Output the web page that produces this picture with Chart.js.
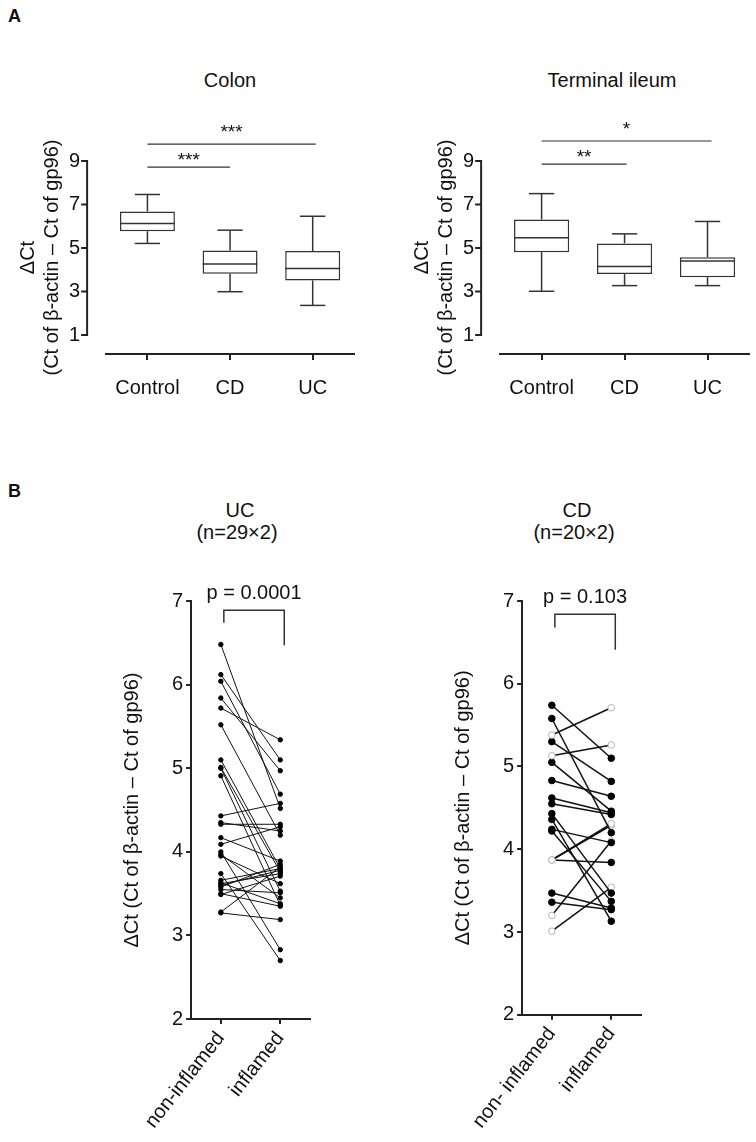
<!DOCTYPE html>
<html>
<head>
<meta charset="utf-8">
<script src="https://cdn.jsdelivr.net/npm/chart.js@4.4.1/dist/chart.umd.min.js"></script>
<style>
  html, body { margin: 0; padding: 0; background: #fff; }
  body { width: 756px; height: 1142px; position: relative; overflow: hidden;
         font-family: "Liberation Sans", Arial, sans-serif; color: #111; }
  .panel { position: absolute; }
  .lbl { position: absolute; font-size: 20px; line-height: 24px; white-space: nowrap;
         transform: translate(-50%, -50%); text-align: center; }
  .tag { position: absolute; font-weight: bold; font-size: 18px; line-height: 18px; }
</style>
</head>
<body>
<div class="tag" style="left:8px;top:7px">A</div>
<div class="tag" style="left:8px;top:482px">B</div>

<div class="lbl" style="left:230px;top:80px">Colon</div>
<div class="lbl" style="left:612px;top:80px">Terminal ileum</div>
<div class="lbl" style="left:240px;top:510px">UC</div>
<div class="lbl" style="left:237px;top:532px">(n=29×2)</div>
<div class="lbl" style="left:577px;top:510px">CD</div>
<div class="lbl" style="left:574px;top:532px">(n=20×2)</div>

<div class="panel" style="left:0;top:0;width:378px;height:420px"><canvas id="colonChart"></canvas></div>
<div class="panel" style="left:394px;top:0;width:362px;height:420px"><canvas id="ileumChart"></canvas></div>
<div class="panel" style="left:0;top:480px;width:378px;height:662px"><canvas id="ucChart"></canvas></div>
<div class="panel" style="left:331px;top:480px;width:378px;height:662px"><canvas id="cdChart"></canvas></div>

<script>
/* ── data ── */
const groupLabels = ['Control', 'CD', 'UC'];
const boxTicks = [1, 3, 5, 7, 9];

// Colon: whisker min, Q1, median, Q3, whisker max
const colonMin = [5.21, 2.99, 2.36];
const colonQ1  = [5.77, 3.82, 3.51];
const colonMed = [6.13, 4.26, 4.06];
const colonQ3  = [6.68, 4.89, 4.86];
const colonMax = [7.46, 5.82, 6.46];

// Terminal ileum
const ileumMin = [3.01, 3.27, 3.27];
const ileumQ1  = [4.81, 3.80, 3.66];
const ileumMed = [5.47, 4.15, 4.40];
const ileumQ3  = [6.31, 5.21, 4.58];
const ileumMax = [7.50, 5.65, 6.22];

// paired samples, UC
const ucLabels = ['non-inflamed', 'inflamed'];
const ucNonInflamed = [6.48, 6.12, 6.04, 5.84, 5.72, 5.52, 5.10, 5.01, 5.00, 4.91,
                       4.43, 4.35, 4.33, 4.17, 4.09, 4.00, 3.97, 3.95, 3.74, 3.66,
                       3.63, 3.60, 3.58, 3.55, 3.50, 3.49, 3.28, 3.27, 3.62];
const ucInflamed    = [4.52, 5.10, 4.69, 4.97, 5.34, 4.20, 3.80, 3.76, 3.53, 3.36,
                       4.58, 4.25, 4.33, 3.89, 4.30, 2.83, 3.45, 3.62, 2.70, 3.80,
                       3.38, 3.78, 3.85, 3.51, 3.35, 3.71, 3.82, 3.19, 3.74];

// paired samples, CD (hollow = open marker in the figure)
const cdLabels = ['non- inflamed', 'inflamed'];
const cdNonInflamed = [5.74, 5.58, 5.38, 5.30, 5.13, 5.05, 4.83, 4.62, 4.55, 4.43,
                       4.36, 4.24, 4.22, 3.87, 3.87, 3.87, 3.47, 3.36, 3.20, 3.01];
const cdInflamed    = [5.10, 4.20, 5.71, 4.82, 5.26, 4.46, 4.64, 4.44, 4.42, 3.47,
                       3.13, 4.08, 3.37, 4.31, 4.29, 3.84, 3.29, 3.27, 4.10, 3.54];
const cdNonHollow   = [0, 0, 1, 0, 1, 0, 0, 0, 0, 0, 0, 0, 0, 1, 1, 1, 0, 0, 1, 1];
const cdInfHollow   = [0, 0, 1, 0, 1, 0, 0, 0, 0, 0, 0, 0, 0, 1, 1, 0, 0, 0, 1, 1];

const yTitleA = ['ΔCt', '(Ct of β-actin – Ct of gp96)'];
const yTitleB = 'ΔCt (Ct of β-actin – Ct of gp96)';

/* ── defaults ── */
const FONT = "'Liberation Sans', Arial, sans-serif";
Chart.defaults.font.family = FONT;
Chart.defaults.color = '#111';
const INK = '#222';

/* ── plugins ── */
// y axis drawn detached from the x axis (Prism style)
const offsetAxis = {
  id: 'offsetAxis',
  afterDraw(chart, args, o) {
    if (!o.gap) return;
    const { ctx, chartArea } = chart;
    const y = chart.scales.y;
    const x = chartArea.left - o.gap;
    const vals = y.ticks.map(t => t.value);
    ctx.save();
    ctx.strokeStyle = INK;
    ctx.lineWidth = 2;
    ctx.lineCap = 'square';
    ctx.beginPath();
    ctx.moveTo(x, y.getPixelForValue(vals[0]));
    ctx.lineTo(x, y.getPixelForValue(vals[vals.length - 1]));
    ctx.stroke();
    ctx.lineCap = 'butt';
    vals.forEach(v => {
      const py = y.getPixelForValue(v);
      ctx.beginPath();
      ctx.moveTo(x - o.tick, py);
      ctx.lineTo(x, py);
      ctx.stroke();
    });
    ctx.restore();
  },
};

const whiskers = {
  id: 'whiskers',
  afterDatasetsDraw(chart, args, o) {
    if (!o.min) return;
    const { ctx } = chart;
    const y = chart.scales.y;
    const meta = chart.getDatasetMeta(0);
    ctx.save();
    ctx.strokeStyle = '#333';
    ctx.lineWidth = 1.5;
    meta.data.forEach((bar, i) => {
      const half = bar.width / 2;
      const cap = bar.width * 0.23;
      const seg = (x0, y0, x1, y1) => { ctx.beginPath(); ctx.moveTo(x0, y0); ctx.lineTo(x1, y1); ctx.stroke(); };
      const pMin = y.getPixelForValue(o.min[i]);
      const pQ1 = y.getPixelForValue(o.q1[i]);
      const pMed = y.getPixelForValue(o.med[i]);
      const pQ3 = y.getPixelForValue(o.q3[i]);
      const pMax = y.getPixelForValue(o.max[i]);
      seg(bar.x, pQ3, bar.x, pMax);
      seg(bar.x - cap, pMax, bar.x + cap, pMax);
      seg(bar.x, pQ1, bar.x, pMin);
      seg(bar.x - cap, pMin, bar.x + cap, pMin);
      seg(bar.x - half, pMed, bar.x + half, pMed);
    });
    ctx.restore();
  },
};

const sigBars = {
  id: 'sigBars',
  afterDraw(chart, args, o) {
    if (!o.bars) return;
    const { ctx } = chart;
    const x = chart.scales.x, y = chart.scales.y;
    ctx.save();
    ctx.strokeStyle = '#333';
    ctx.lineWidth = 1.2;
    ctx.fillStyle = '#111';
    ctx.font = '19px ' + FONT;
    ctx.textAlign = 'center';
    ctx.textBaseline = 'alphabetic';
    o.bars.forEach(b => {
      const xa = x.getPixelForValue(b.from);
      const xb = x.getPixelForValue(b.to) + (b.extend || 0);
      const py = y.getPixelForValue(b.level);
      ctx.beginPath();
      ctx.moveTo(xa, py);
      ctx.lineTo(xb, py);
      ctx.stroke();
      ctx.fillText(b.text, (xa + xb) / 2, py - b.lift);
    });
    ctx.restore();
  },
};

const bracket = {
  id: 'bracket',
  afterDraw(chart, args, o) {
    if (!o.text) return;
    const { ctx } = chart;
    const x = chart.scales.x, y = chart.scales.y;
    const x0 = x.getPixelForValue(0) + 3;
    const x1 = x.getPixelForValue(1) + 4;
    const yt = y.getPixelForValue(o.top);
    ctx.save();
    ctx.strokeStyle = '#333';
    ctx.lineWidth = 1.5;
    ctx.beginPath();
    ctx.moveTo(x0, y.getPixelForValue(o.leftEnd));
    ctx.lineTo(x0, yt);
    ctx.lineTo(x1, yt);
    ctx.lineTo(x1, y.getPixelForValue(o.rightEnd));
    ctx.stroke();
    ctx.fillStyle = '#111';
    ctx.font = '20px ' + FONT;
    ctx.textAlign = 'center';
    ctx.textBaseline = 'alphabetic';
    ctx.fillText(o.text, (x0 + x1) / 2, yt - 11);
    ctx.restore();
  },
};

/* ── box plots (panel A) ── */
function boxChart(id, stats, sigs, padRight) {
  const ctx = document.getElementById(id);
  return new Chart(ctx, {
    type: 'bar',
    data: {
      labels: groupLabels,
      datasets: [{
        data: stats.q1.map((v, i) => [v, stats.q3[i]]),
        backgroundColor: '#fff',
        borderColor: '#333',
        borderWidth: 1.5,
        borderSkipped: false,
        categoryPercentage: 1,
        barPercentage: 0.665,
      }],
    },
    options: {
      responsive: true,
      maintainAspectRatio: false,
      animation: false,
      layout: { padding: { left: 16, top: 161, right: padRight, bottom: 4 } },
      plugins: {
        legend: { display: false },
        tooltip: { enabled: false },
        whiskers: stats,
        sigBars: { bars: sigs },
        offsetAxis: { gap: 19, tick: 6 },
      },
      scales: {
        x: {
          offset: true,
          grid: { display: true, drawOnChartArea: false, drawTicks: true, tickLength: 6, offset: false, color: INK, lineWidth: 2 },
          border: { display: true, color: INK, width: 2 },
          ticks: { color: '#111', font: { size: 20 }, padding: 16 },
        },
        y: {
          min: 0.126,
          max: 9,
          afterBuildTicks: s => { s.ticks = boxTicks.map(v => ({ value: v })); },
          grid: { display: false, drawTicks: false },
          border: { display: false },
          ticks: { color: '#111', font: { size: 20 }, padding: 26 },
          title: {
            display: true,
            text: yTitleA,
            color: '#111',
            font: { size: 20, lineHeight: 1.2 },
            // ticks padding is counted twice in the axis width, pull it back here
            padding: { top: 0, bottom: -21 },
          },
        },
      },
    },
    plugins: [offsetAxis, whiskers, sigBars],
  });
}

/* ── paired plots (panel B) ── */
function pairChart(id, labels, non, inf, nonHollow, infHollow, look, p) {
  const ctx = document.getElementById(id);
  const datasets = non.map((v, i) => {
    const hollow = [nonHollow ? nonHollow[i] : 0, infHollow ? infHollow[i] : 0];
    return {
      data: [v, inf[i]],
      borderColor: '#111',
      borderWidth: look.line,
      pointRadius: look.radius,
      pointBorderWidth: 1,
      pointBackgroundColor: hollow.map(h => (h ? '#fff' : '#000')),
      pointBorderColor: hollow.map(h => (h ? '#b4b4b4' : '#000')),
    };
  });
  return new Chart(ctx, {
    type: 'line',
    data: { labels, datasets },
    options: {
      responsive: true,
      maintainAspectRatio: false,
      animation: false,
      layout: { padding: { left: 120, top: 121, right: 68, bottom: 6 } },
      plugins: {
        legend: { display: false },
        tooltip: { enabled: false },
        bracket: p,
      },
      scales: {
        x: {
          offset: true,
          grid: { display: true, drawOnChartArea: false, drawTicks: true, tickLength: 5, offset: false, color: INK, lineWidth: 2 },
          border: { display: true, color: INK, width: 2 },
          ticks: { color: '#111', font: { size: 20 }, padding: 3, minRotation: 52, maxRotation: 52 },
        },
        y: {
          min: 2,
          max: 7,
          grid: { display: true, drawOnChartArea: false, drawTicks: true, tickLength: 5, color: INK, lineWidth: 2 },
          border: { display: true, color: INK, width: 2 },
          ticks: { stepSize: 1, color: '#111', font: { size: 20 }, padding: 3 },
          title: {
            display: true,
            text: yTitleB,
            color: '#111',
            font: { size: 20, lineHeight: 1.2 },
            padding: { top: 0, bottom: 25 },
          },
        },
      },
    },
    plugins: [bracket],
  });
}

/* ── boot ── */
function init() {
  boxChart('colonChart',
    { min: colonMin, q1: colonQ1, med: colonMed, q3: colonQ3, max: colonMax },
    [{ from: 0, to: 1, level: 8.72, text: '***', lift: 1 },
     { from: 0, to: 2, level: 9.78, text: '***', lift: 6, extend: 3 }],
    24);
  boxChart('ileumChart',
    { min: ileumMin, q1: ileumQ1, med: ileumMed, q3: ileumQ3, max: ileumMax },
    [{ from: 0, to: 1, level: 8.86, text: '**', lift: 1, extend: 2 },
     { from: 0, to: 2, level: 9.92, text: '*', lift: 6, extend: 4 }],
    7);
  pairChart('ucChart', ucLabels, ucNonInflamed, ucInflamed, null, null,
    { line: 1, radius: 2.2 },
    { text: 'p = 0.0001', top: 6.89, leftEnd: 6.74, rightEnd: 6.47 });
  pairChart('cdChart', cdLabels, cdNonInflamed, cdInflamed, cdNonHollow, cdInfHollow,
    { line: 1.5, radius: 3.3 },
    { text: 'p = 0.103', top: 6.84, leftEnd: 6.68, rightEnd: 6.41 });
}

if (document.readyState === 'loading') {
  document.addEventListener('DOMContentLoaded', init);
} else {
  init();
}
</script>
</body>
</html>
